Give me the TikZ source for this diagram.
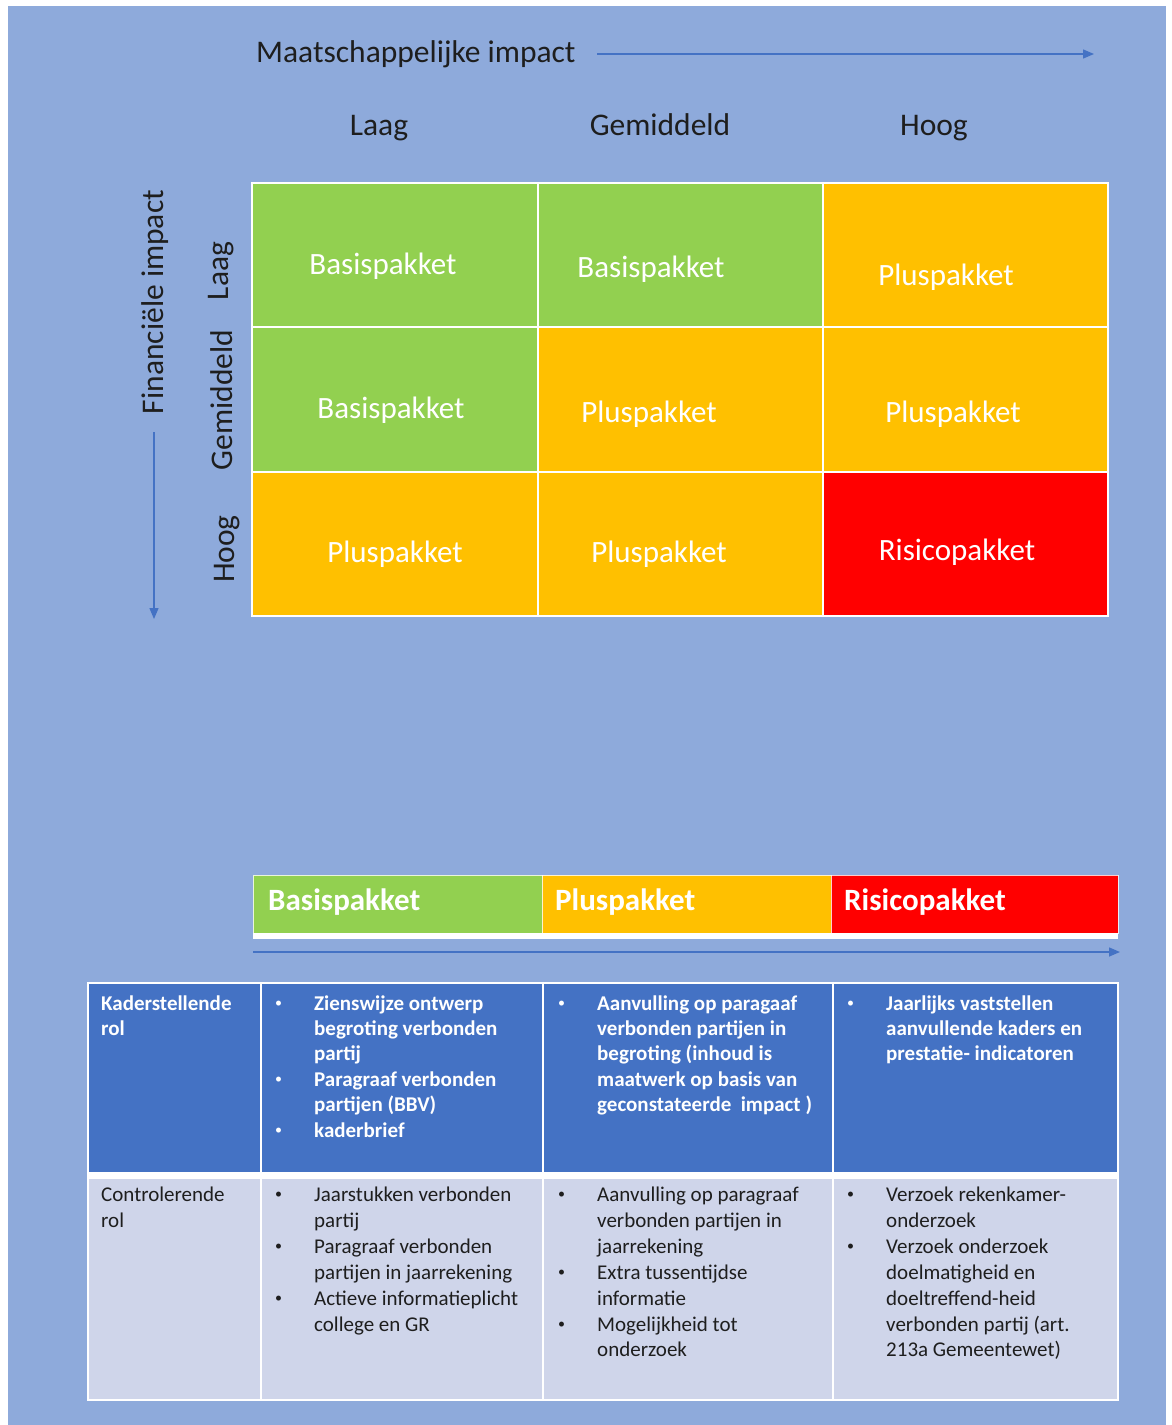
\documentclass[tikz,border=0pt]{standalone}
\usepackage{fontspec}
\setmainfont{Carlito}
\usetikzlibrary{arrows.meta}
\definecolor{bgblue}{HTML}{8EAADB}
\definecolor{pgreen}{HTML}{92D050}
\definecolor{porange}{HTML}{FFC000}
\definecolor{pred}{HTML}{FF0000}
\definecolor{tdark}{HTML}{4472C4}
\definecolor{tlight}{HTML}{CFD5EA}
\definecolor{axisc}{HTML}{4472C4}
\definecolor{ink}{HTML}{1E1E1E}
\begin{document}
\begin{tikzpicture}[x=1pt,y=-1pt,
  axisarrow/.style={draw=axisc,line width=1.4pt,-{Triangle[length=11pt,width=9pt]}},
  biglbl/.style={font=\fontsize{31.5}{37}\selectfont,text=ink,inner sep=0pt},
  celltxt/.style={font=\fontsize{31}{37}\selectfont,text=white,inner sep=0pt,anchor=base},
  bartxt/.style={font=\fontsize{31}{37}\selectfont\bfseries,text=white,inner sep=0pt,anchor=base west},
  cellbox/.style={draw=white,line width=2.5pt},
  hdtxt/.style={font=\fontsize{21}{25}\selectfont\bfseries,text=white,inner sep=0pt,anchor=base west},
  bdtxt/.style={font=\fontsize{21}{25}\selectfont,text=ink,inner sep=0pt,anchor=base west},
  hdbul/.style={font=\fontsize{14}{16}\selectfont,text=white,inner sep=0pt,anchor=base west},
  bdbul/.style={font=\fontsize{14}{16}\selectfont,text=ink,inner sep=0pt,anchor=base west},
  gridline/.style={draw=white,line width=2pt}]
\useasboundingbox (0,0) rectangle (1171,1425);
\fill[bgblue] (8,6) rectangle (1166,1425);

% ---------- top axis ----------
\node[biglbl,anchor=base west] (mtitle) at (256,62) {Maatschappelijke impact};
\coordinate (ta1) at (597,54);
\coordinate (ta2) at (1094,54);
\draw[axisarrow] (ta1) -- (ta2);
\node[biglbl,anchor=base] (cl1) at (379,135) {Laag};
\node[biglbl,anchor=base] (cl2) at (660,135) {Gemiddeld};
\node[biglbl,anchor=base] (cl3) at (934,135) {Hoog};

% ---------- left axis ----------
\node[biglbl,rotate=90,anchor=base] (ftitle) at (163,302) {Financiële impact};
\coordinate (la1) at (154,432);
\coordinate (la2) at (154,619);
\draw[axisarrow] (la1) -- (la2);
\node[biglbl,rotate=90,anchor=base] (rl1) at (228,271) {Laag};
\node[biglbl,rotate=90,anchor=base] (rl2) at (232,400) {Gemiddeld};
\node[biglbl,rotate=90,anchor=base] (rl3) at (234,549) {Hoog};

% ---------- matrix ----------
\filldraw[cellbox,fill=pgreen]  (252,183) rectangle (538,327);
\filldraw[cellbox,fill=pgreen]  (538,183) rectangle (823,327);
\filldraw[cellbox,fill=porange] (823,183) rectangle (1108,327);
\filldraw[cellbox,fill=pgreen]  (252,327) rectangle (538,472);
\filldraw[cellbox,fill=porange] (538,327) rectangle (823,472);
\filldraw[cellbox,fill=porange] (823,327) rectangle (1108,472);
\filldraw[cellbox,fill=porange] (252,472) rectangle (538,616);
\filldraw[cellbox,fill=porange] (538,472) rectangle (823,616);
\filldraw[cellbox,fill=pred]    (823,472) rectangle (1108,616);

\node[celltxt] (m11) at (383,274) {Basispakket};
\node[celltxt] (m12) at (651,277) {Basispakket};
\node[celltxt] (m13) at (946,285) {Pluspakket};
\node[celltxt] (m21) at (391,418) {Basispakket};
\node[celltxt] (m22) at (649,422) {Pluspakket};
\node[celltxt] (m23) at (953,422) {Pluspakket};
\node[celltxt] (m31) at (395,562) {Pluspakket};
\node[celltxt] (m32) at (659,562) {Pluspakket};
\node[celltxt] (m33) at (957,560) {Risicopakket};

% ---------- bar ----------
\fill[pgreen]  (253,875) rectangle (542,934);
\fill[porange] (542,875) rectangle (831,934);
\fill[pred]    (831,875) rectangle (1118,934);
\draw[white,line width=1pt,opacity=0.8] (253,934) -- (253,875) -- (1118,875) -- (1118,934);
\draw[white,line width=1pt,opacity=0.8] (542,875) -- (542,934);
\draw[white,line width=1pt,opacity=0.8] (831,875) -- (831,934);
\fill[white] (253,933) rectangle (1118,939);
\node[bartxt] (b1) at (268,910) {Basispakket};
\node[bartxt] (b2) at (555,910) {Pluspakket};
\node[bartxt] (b3) at (844,910) {Risicopakket};
\coordinate (ba1) at (253,952);
\coordinate (ba2) at (1120,952);
\draw[axisarrow] (ba1) -- (ba2);

% ---------- table ----------
\fill[tdark]  (88,983) rectangle (1118,1173);
\fill[tlight] (88,1178) rectangle (1118,1400);
\fill[white] (88,1172) rectangle (1118,1179);
\draw[gridline] (88,983) rectangle (1118,1400);
\draw[gridline] (261,983) -- (261,1400);
\draw[gridline] (543,983) -- (543,1400);
\draw[gridline] (833,983) -- (833,1400);

% row 1 (header row, bold white)
\foreach \t [count=\i] in {Kaderstellende,rol}
  \node[hdtxt] (a1l\i) at (101,{1010+25.4*(\i-1)}) {\t};
\foreach \t [count=\i] in {Zienswijze ontwerp,begroting verbonden,partij,Paragraaf verbonden,partijen (BBV),kaderbrief}
  \node[hdtxt] (a2l\i) at (314,{1010+25.4*(\i-1)}) {\t};
\foreach \i in {1,4,6}
  \node[hdbul] (a2b\i) at (275,{1007+25.4*(\i-1)}) {•};
\foreach \t [count=\i] in {Aanvulling op paragaaf,verbonden partijen in,begroting (inhoud is,maatwerk op basis van,geconstateerde\ \ impact )}
  \node[hdtxt] (a3l\i) at (597,{1010+25.4*(\i-1)}) {\t};
\node[hdbul] (a3b1) at (558,1007) {•};
\foreach \t [count=\i] in {Jaarlijks vaststellen,aanvullende kaders en,prestatie- indicatoren}
  \node[hdtxt] (a4l\i) at (886,{1010+25.4*(\i-1)}) {\t};
\node[hdbul] (a4b1) at (847,1007) {•};

% row 2
\foreach \t [count=\i] in {Controlerende,rol}
  \node[bdtxt] (c1l\i) at (101,{1201.5+25.9*(\i-1)}) {\t};
\foreach \t [count=\i] in {Jaarstukken verbonden,partij,Paragraaf verbonden,partijen in jaarrekening,Actieve informatieplicht,college en GR}
  \node[bdtxt] (c2l\i) at (314,{1201.5+25.9*(\i-1)}) {\t};
\foreach \i in {1,3,5}
  \node[bdbul] (c2b\i) at (275,{1198.5+25.9*(\i-1)}) {•};
\foreach \t [count=\i] in {Aanvulling op paragraaf,verbonden partijen in,jaarrekening,Extra tussentijdse,informatie,Mogelijkheid tot,onderzoek}
  \node[bdtxt] (c3l\i) at (597,{1201.5+25.9*(\i-1)}) {\t};
\foreach \i in {1,4,6}
  \node[bdbul] (c3b\i) at (558,{1198.5+25.9*(\i-1)}) {•};
\foreach \t [count=\i] in {Verzoek rekenkamer-,onderzoek,Verzoek onderzoek,doelmatigheid en,doeltreffend-heid,verbonden partij (art.,213a Gemeentewet)}
  \node[bdtxt] (c4l\i) at (886,{1201.5+25.9*(\i-1)}) {\t};
\foreach \i in {1,3}
  \node[bdbul] (c4b\i) at (847,{1198.5+25.9*(\i-1)}) {•};
\end{tikzpicture}
\end{document}
